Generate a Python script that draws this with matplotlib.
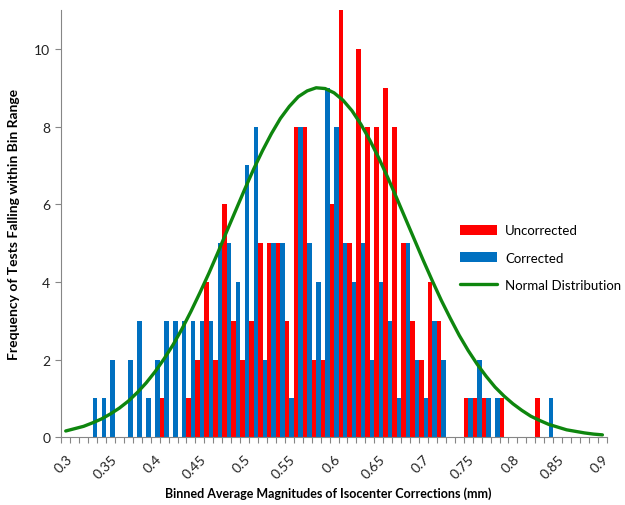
import numpy as np
import matplotlib
matplotlib.use('Agg')
import matplotlib.pyplot as plt

plt.rcParams['font.family'] = ['Lato', 'DejaVu Sans']

# bins 0.30 ... 0.90 in steps of 0.01 (61 categories)
bin_mm = np.round(np.linspace(0.30, 0.90, 61), 2)

uncorrected = [0, 0, 0, 0, 0, 0, 0, 0, 0, 0,   # 0.30-0.39
               0, 1, 0, 0, 1, 2, 4, 2, 6, 3,   # 0.40-0.49
               2, 3, 5, 5, 5, 3, 8, 8, 2, 2,   # 0.50-0.59
               6, 11, 5, 10, 8, 8, 9, 8, 5, 3, # 0.60-0.69
               2, 4, 3, 0, 0, 1, 1, 1, 0, 1,   # 0.70-0.79
               0, 0, 0, 1, 0, 0, 0, 0, 0, 0,   # 0.80-0.89
               0]                              # 0.90

corrected = [0, 0, 0, 1, 1, 2, 0, 2, 3, 1,     # 0.30-0.39
             2, 3, 3, 3, 3, 3, 3, 5, 5, 4,     # 0.40-0.49
             7, 8, 2, 5, 5, 1, 8, 5, 4, 9,     # 0.50-0.59
             8, 5, 4, 5, 2, 4, 3, 1, 5, 2,     # 0.60-0.69
             1, 3, 2, 0, 0, 1, 2, 1, 1, 0,     # 0.70-0.79
             0, 0, 0, 0, 1, 0, 0, 0, 0, 0,     # 0.80-0.89
             0]                                # 0.90

normal = [0.16, 0.22, 0.28, 0.37, 0.47, 0.60, 0.75, 0.93, 1.15, 1.40,
          1.69, 2.02, 2.38, 2.79, 3.24, 3.72, 4.22, 4.75, 5.30, 5.84,
          6.38, 6.90, 7.38, 7.82, 8.21, 8.52, 8.77, 8.92, 9.00, 8.98,
          8.87, 8.68, 8.41, 8.06, 7.65, 7.19, 6.69, 6.16, 5.62, 5.08,
          4.54, 4.02, 3.52, 3.06, 2.62, 2.23, 1.88, 1.57, 1.29, 1.06,
          0.86, 0.69, 0.54, 0.43, 0.33, 0.26, 0.19, 0.15, 0.11, 0.08,
          0.06]

tick_labels = ['0.3', '0.35', '0.4', '0.45', '0.5', '0.55', '0.6',
               '0.65', '0.7', '0.75', '0.8', '0.85', '0.9']

red = '#ff0000'
blue = '#0070c0'
green = '#0e860e'
grey = '#868686'

fig = plt.figure(figsize=(6.25, 5.06), dpi=100)
ax = fig.add_axes([0.098, 0.134, 0.873, 0.844])

x = np.arange(len(bin_mm))
b1 = ax.bar(x - 0.25, uncorrected, width=0.5, color=red, label='Uncorrected')
b2 = ax.bar(x + 0.25, corrected, width=0.5, color=blue, label='Corrected')
l1, = ax.plot(x, normal, color=green, lw=2.4, label='Normal Distribution',
              solid_capstyle='round')

ax.set_xlim(-0.5, len(bin_mm) - 0.5)
ax.set_ylim(0, 11)
ax.set_yticks([0, 2, 4, 6, 8, 10])
ax.tick_params(axis='y', labelsize=10, length=4, color=grey, pad=4,
               labelcolor='#222222')

# tick marks between categories, labels on every 5th category
ax.set_xticks(np.arange(-0.5, len(bin_mm), 1.0))
ax.set_xticklabels([])
ax.tick_params(axis='x', which='major', length=4, color=grey)
ax.set_xticks(x[::5], minor=True)
ax.set_xticklabels(tick_labels, minor=True, rotation=45, ha='right',
                   va='top', rotation_mode='anchor', fontsize=10,
                   color='#222222')
ax.tick_params(axis='x', which='minor', length=0, pad=11)

for s in ['top', 'right']:
    ax.spines[s].set_visible(False)
for s in ['left', 'bottom']:
    ax.spines[s].set_color(grey)

ax.set_xlabel('Binned Average Magnitudes of Isocenter Corrections (mm)',
              fontsize=9, fontweight='bold')
ax.xaxis.set_label_coords(0.49, -0.115)
ax.set_ylabel('Frequency of Tests Falling within Bin Range',
              fontsize=10, fontweight='bold')
ax.yaxis.set_label_coords(-0.075, 0.5)

fig.legend([b1, b2, l1], ['Uncorrected', 'Corrected', 'Normal Distribution'],
           loc='upper left', bbox_to_anchor=(0.728, 0.565), frameon=False,
           fontsize=9.5, handlelength=2.8, handleheight=0.8,
           labelspacing=1.15, handletextpad=0.6, borderaxespad=0)

fig.savefig('out.png', dpi=100)
